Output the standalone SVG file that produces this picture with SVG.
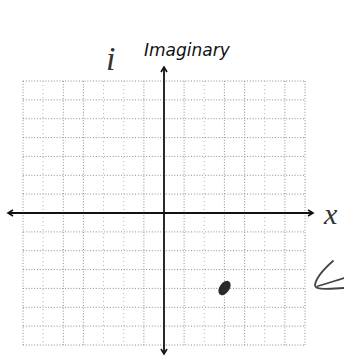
<svg xmlns="http://www.w3.org/2000/svg" width="344" height="356" viewBox="0 0 344 356">
<style>
.grid line{stroke:#8c8c8c;stroke-width:1;stroke-dasharray:1 1.8;}
.grid line.faint{stroke:#b4b4b4;stroke-dasharray:1 3;}
.axis{stroke:#111;stroke-width:1.8;fill:none;}
.lbl{font-family:"DejaVu Sans",sans-serif;font-style:italic;font-size:17px;fill:#111;}
.hand{font-family:"Liberation Serif",serif;font-style:italic;fill:#333;}
</style>
<defs>
<marker id="ah" markerWidth="8" markerHeight="8" refX="6" refY="4" orient="auto" markerUnits="userSpaceOnUse">
<path d="M1,1 L6,4 L1,7" fill="none" stroke="#111" stroke-width="1.6"/>
</marker>
</defs>
<rect width="344" height="356" fill="#fff"/>
<g class="grid" id="grid">
<line x1="23" y1="81" x2="305" y2="81"/>
<line x1="23" y1="99.9" x2="305" y2="99.9"/>
<line x1="23" y1="118.7" x2="305" y2="118.7"/>
<line x1="23" y1="137.6" x2="305" y2="137.6"/>
<line x1="23" y1="156.4" x2="305" y2="156.4"/>
<line x1="23" y1="175.3" x2="305" y2="175.3"/>
<line x1="23" y1="194.1" x2="305" y2="194.1"/>
<line x1="23" y1="231.9" x2="305" y2="231.9"/>
<line x1="23" y1="250.7" x2="305" y2="250.7"/>
<line x1="23" y1="269.6" x2="305" y2="269.6"/>
<line x1="23" y1="288.4" x2="305" y2="288.4"/>
<line x1="23" y1="307.3" x2="305" y2="307.3"/>
<line x1="23" y1="326.1" x2="305" y2="326.1"/>
<line x1="23" y1="345" x2="305" y2="345"/>
<line x1="23" y1="81" x2="23" y2="345"/>
<line class="faint" x1="43.1" y1="81" x2="43.1" y2="345"/>
<line x1="63.3" y1="81" x2="63.3" y2="345"/>
<line x1="83.4" y1="81" x2="83.4" y2="345"/>
<line class="faint" x1="103.6" y1="81" x2="103.6" y2="345"/>
<line class="faint" x1="123.7" y1="81" x2="123.7" y2="345"/>
<line x1="143.9" y1="81" x2="143.9" y2="345"/>
<line x1="184.1" y1="81" x2="184.1" y2="345"/>
<line class="faint" x1="204.3" y1="81" x2="204.3" y2="345"/>
<line x1="224.4" y1="81" x2="224.4" y2="345"/>
<line x1="244.6" y1="81" x2="244.6" y2="345"/>
<line class="faint" x1="264.7" y1="81" x2="264.7" y2="345"/>
<line x1="284.9" y1="81" x2="284.9" y2="345"/>
<line x1="305" y1="81" x2="305" y2="345"/>
</g>
<g id="connectors">
<line class="axis" x1="164" y1="353" x2="164" y2="67" marker-end="url(#ah)"/>
<line class="axis" x1="164" y1="353" x2="164" y2="354" marker-end="url(#ah)"/>
<line class="axis" x1="164" y1="213" x2="313" y2="213" marker-end="url(#ah)"/>
<line class="axis" x1="164" y1="213" x2="8" y2="213" marker-end="url(#ah)"/>
</g>
<g id="label-imaginary">
<text class="lbl" x="144" y="56">Imaginary</text>
</g>
<g id="label-i">
<text class="hand" x="106" y="70" font-size="34">i</text>
</g>
<g id="label-x">
<text class="hand" x="324" y="224" font-size="30">x</text>
</g>
<g id="marks">
<ellipse cx="224.5" cy="288" rx="5" ry="8" transform="rotate(35 224.5 288)" fill="#2a2a2a"/>
<path d="M333,261 C325,268 316,278 315,285 C315,290 325,289 344,288 M318,286 C326,284 334,281 344,278" fill="none" stroke="#444" stroke-width="1.8" stroke-linecap="round"/>
</g>
</svg>
